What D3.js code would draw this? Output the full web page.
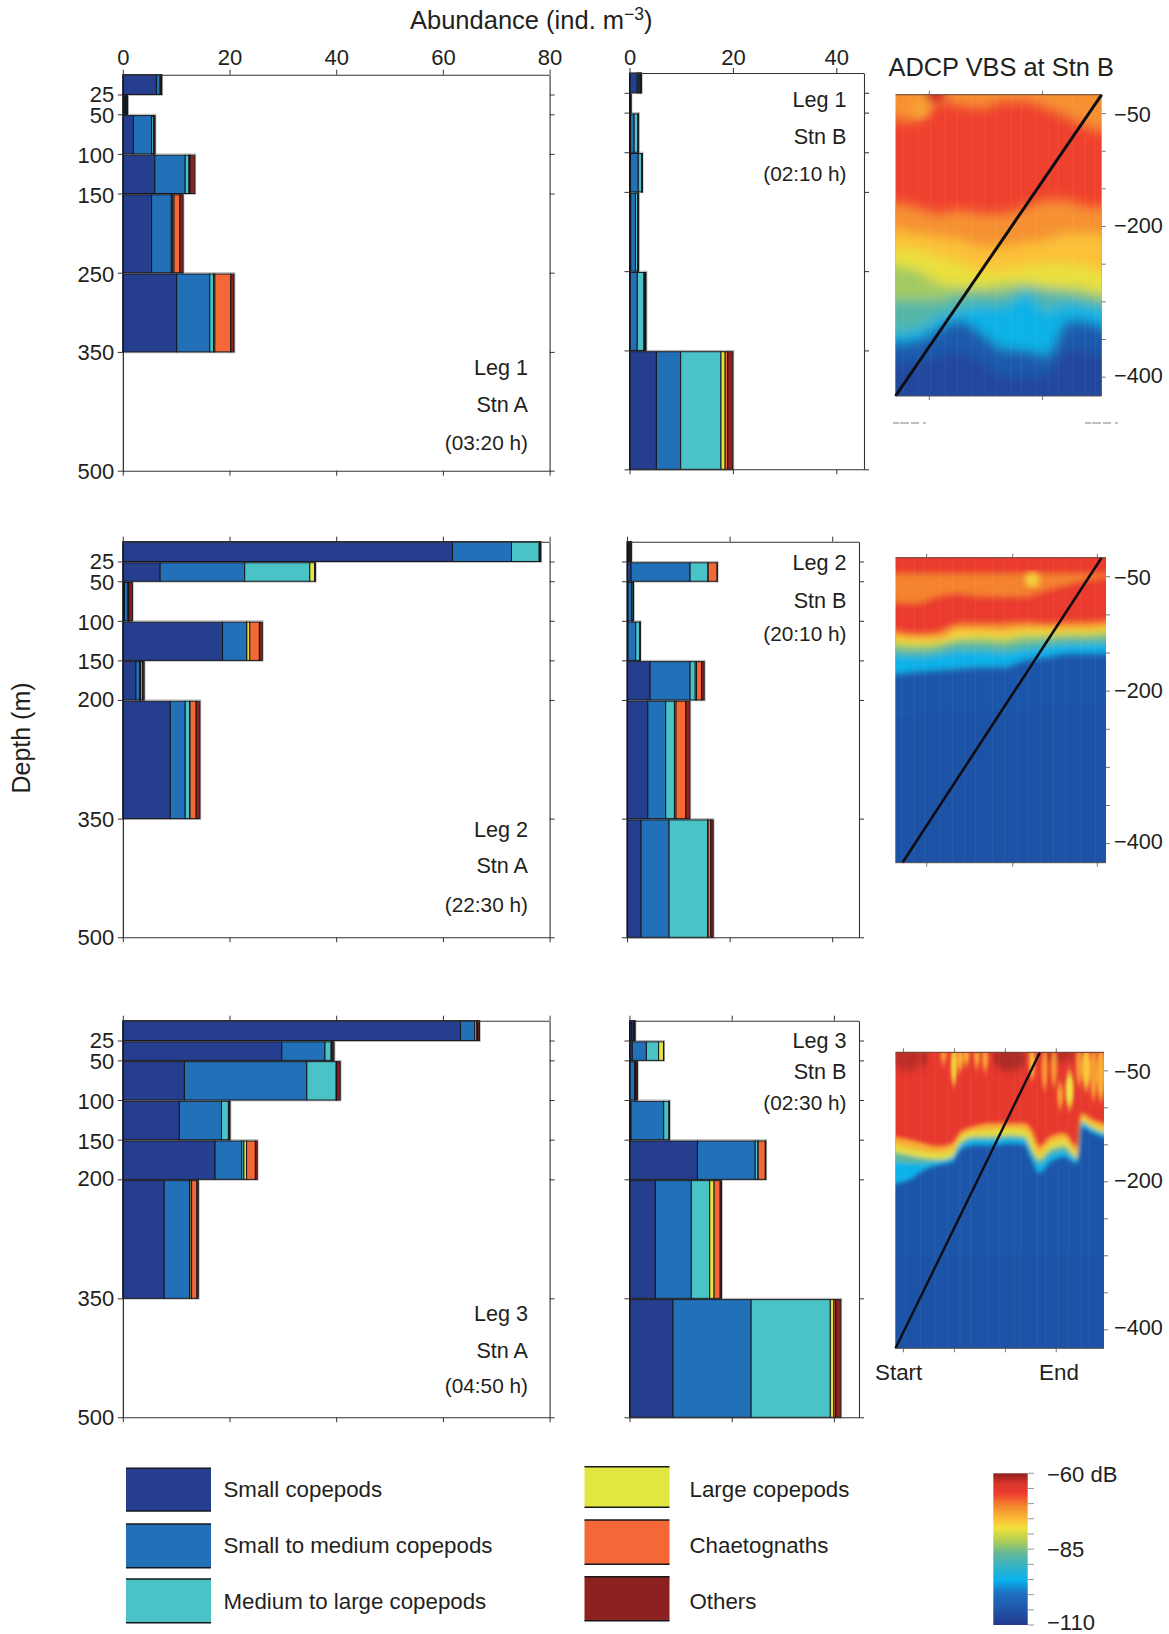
<!DOCTYPE html>
<html><head><meta charset="utf-8">
<style>
html,body{margin:0;padding:0;background:#fff}
svg{display:block}
text{font-family:"Liberation Sans",Arial,sans-serif;fill:#231f20}
</style>
<script src="https://cdnjs.cloudflare.com/ajax/libs/d3/7.9.0/d3.min.js"></script>
</head><body><svg id="c" width="1169" height="1634"></svg>
<script>
// ---------- categories ----------
const categories = ["Small copepods","Small to medium copepods","Medium to large copepods","Large copepods","Chaetognaths","Others"];
const catColors = ["#263e8e","#2170b8","#4ac3c6","#e2e641","#f46737","#8d211f"];
// depth strata (m)
const strataLeg1 = [0,25,50,100,150,250,350,500];
const strataOther = [0,25,50,100,150,200,350,500];
const ticksLeg1 = [25,50,100,150,250,350,500];
const ticksOther = [25,50,100,150,200,350,500];
const xTicksA = [0,20,40,60,80];
const xTicksB = [0,20,40];
// abundance per stratum: small, small-med, med-large, large, chaetognaths, others
const leg1A = [[6.3,.7,.1,.05,.05,.1],[.3,.2,.1,.1,.1,.1],[2,3.4,.35,.05,.05,.2],[6,5.7,.7,.1,.1,.9],[5.4,3.7,.25,.25,1.1,.6],[10.1,6.2,.7,.25,3,.6]];
const leg1B = [[1.5,.3,.2,.1,.1,.1],[.1,.05,.05,.03,.03,.03],[.2,.7,.75,.03,.03,.04],[.2,1.5,.7,.02,.02,.02],[.25,.9,.4,.05,.05,.1],[.1,1.4,1.3,.1,.15,.15],[5.2,4.7,7.8,.8,.5,1]];
const leg2A = [[61.8,11.05,5.2,.1,.1,.1],[7,15.85,12.2,.9,.05,.1],[.3,.65,.1,.05,.05,.65],[18.7,4.5,.05,.55,1.8,.55],[2.45,.7,.1,.05,.4,.3],[8.9,2.8,.85,.05,1.15,.7]];
const leg2B = [[.3,.15,.1,.1,.1,.1],[.8,11.5,3.5,.02,1.75,.03],[.2,.7,.3,.02,.02,.02],[.2,1.5,.8,.02,.02,.02],[4.5,7.8,1,.25,1,.5],[4.05,3.5,1.7,.3,1.9,.8],[2.75,5.45,7.5,.1,.55,.45]];
const leg3A = [[63.3,2.65,.4,.1,.1,.3],[29.8,8.1,1.15,.1,.1,.35],[11.55,22.95,5.5,.05,.05,.65],[10.6,7.9,1.3,.1,.1,.1],[17.3,5,.4,.5,1.65,.35],[7.75,4.75,.1,.3,1,.25]];
const leg3B = [[.4,.3,.1,.1,.1,.1],[.55,2.75,2.4,.95,.02,.02],[.05,.95,.1,.1,.1,.25],[.3,6.4,1.05,.02,.02,.02],[13.3,11.3,.55,.03,1.4,.1],[5.05,7.05,3.6,.85,1.2,.25],[8.5,15.3,15.5,.7,.35,1]];

// ---------- ADCP: depth (m) of each backscatter level along the tow period ----------
const adcpTicks = [50,100,150,200,250,300,350,400];
const adcpLabels = [50,200,400];
const adcp1Time = [0,.1,.21,.31,.42,.52,.63,.73,.84,.93,1];
const adcp1Surface = [50,59,32,37,41,32,32,41,54,67,76];
const adcp1A = [165,174,183,178,183,183,174,165,165,174,174];
const adcp1B = [200,209,214,218,227,227,222,218,209,209,218];
const adcp1C = [227,231,240,249,258,258,253,249,249,253,267];
const adcp1D = [249,258,275,280,280,275,275,280,280,284,298];
const adcp1E = [298,298,298,289,289,289,280,284,289,293,306];
const adcp1F = [342,337,320,311,306,306,289,311,302,306,320];
const adcp1G = [355,351,335,324,342,362,364,371,324,326,348];
const adcp1H = [386,382,373,368,382,399,399,399,364,368,382];
// patches: time start, time end, depth top, depth bottom, dB
const adcp1Patches = [[.15,.24,25,36,-63],[.08,.16,38,56,-73]];
const adcp1Streaks = [.04,.11,.17,.24,.3,.37,.43,.49,.56,.61,.68,.74,.79,.86,.92,.97];

const adcp2Time = [0,.1,.2,.3,.41,.51,.61,.72,.82,.91,1];
const adcp2OrangeTop = [46,46,46,46,46,46,46,46,46,46,46];
const adcp2OrangeBottom = [80,85,76,72,76,76,76,67,60,54,50];
const adcp2A = [113,124,122,111,111,111,109,111,109,109,102];
const adcp2B = [122,131,131,120,120,122,118,118,118,118,109];
const adcp2D = [131,139,137,131,129,131,126,126,124,124,118];
const adcp2E = [142,146,144,137,137,139,135,133,131,131,126];
const adcp2F = [150,155,153,148,148,150,146,142,139,139,137];
const adcp2G = [181,174,172,170,168,168,159,155,150,150,150];
const adcp2H = [233,233,225,225,225,225,225,216,216,216,216];
const adcp2Patches = [[.62,.68,52,64,-77]];
const adcp2Streaks = [.03,.09,.14,.21,.27,.33,.38,.46,.52,.58,.63,.69,.75,.81,.88,.95];

const adcp3Time = [0,.064,.133,.203,.272,.307,.376,.463,.55,.62,.655,.69,.74,.81,.87,.89,.95,1];
const adcp3A = [134,143,148,152,148,134,125,121,121,121,130,152,139,134,152,107,116,125];
const adcp3C = [143,155,159,161,157,141,132,130,128,130,141,164,148,143,161,114,123,134];
const adcp3E = [155,164,168,170,166,148,139,139,137,139,157,170,157,152,168,119,128,139];
const adcp3F = [170,175,175,173,168,152,143,143,141,143,164,177,164,159,170,121,130,141];
const adcp3G = [206,197,184,177,173,157,150,150,148,150,170,188,173,166,175,126,134,148];
const adcp3H = [300,300,300,300,300,300,300,300,300,300,300,300,300,300,300,300,300,300];
const adcp3Patches = [[0,.11,25,50,-62],[.47,.62,25,50,-61.5],[.7,.86,25,38,-62],[.12,.15,25,46,-62],
 [.27,.29,25,69,-77],[.3,.32,25,50,-74],[.22,.24,25,40,-73],[.33,.35,25,42,-74],[.38,.4,25,46,-73],[.42,.44,25,50,-73],
 [.645,.665,25,60,-75],[.705,.725,30,75,-72],[.75,.77,30,70,-72],[.82,.85,60,100,-78],[.78,.8,75,100,-73],
 [.87,.89,25,70,-72],[.9,.93,25,75,-76],[.94,.96,25,90,-73],[.97,1,25,90,-74]];
const adcp3Streaks = [.05,.12,.19,.25,.31,.36,.44,.5,.57,.6,.68,.72,.78,.83,.89,.93];

const towTrack1 = [[0,425],[1,25]];
const towTrack2 = [[.033,425],[.979,25]];
const towTrack3 = [[0,425],[.693,25]];
const adcpEdge1 = [.164,.713];
const adcpEdge2 = [.148,.557,.959];
const adcpEdge3 = [.038,.283,.527,.771];

// colour bar stops
const cbDb = [-60,-63.3,-66.6,-71,-75.4,-78.1,-82,-86.4,-90.8,-95.2,-99.6,-105,-110];
const cbCol = ["#8b2020","#d8352a","#ee3b2e","#f58b2f","#fbc037","#f0e23c","#b5cf52","#63b898","#33b3c8","#08b2ec","#1f6fbf","#1f55a8","#22398f"];
const cbTicks = [-60,-65,-70,-75,-80,-85,-90,-95,-100,-105,-110];
const cbLabels = [[-60,"\u221260 dB"],[-85,"\u221285"],[-110,"\u2212110"]];
const dbColor = d3.scaleLinear().domain(cbDb).range(cbCol);

// ---------- drawing ----------
const svg = d3.select("#c");
const defs = svg.append("defs");
const AXC = "#333";
const FS = 22;

function barPanel(o){
  const x = d3.scaleLinear().domain([0,o.xUnit]).range([o.x0,o.x0+o.scale*o.xUnit]);
  const y = d3.scaleLinear().domain([0,500]).range([o.top,o.bottom]);
  const g = svg.append("g");
  const keys = d3.range(6);
  const rows = o.data.map((r,i)=>Object.assign({top:o.strata[i],bot:o.strata[i+1]},r));
  const stack = d3.stack().keys(keys)(rows);
  g.selectAll("rect.h").data(rows).join("rect").attr("class","h")
    .attr("x",x(0)).attr("y",d=>y(d.top)).attr("height",d=>y(d.bot)-y(d.top)+.8)
    .attr("width",d=>x(d3.sum(keys,k=>d[k]))-x(0)+.8).attr("fill","none").attr("stroke","#b5b5b5").attr("stroke-width",1);
  stack.forEach((s,k)=>{
    g.append("g").selectAll("rect").data(s).join("rect")
     .attr("x",d=>x(d[0])).attr("width",d=>Math.max(0,x(d[1])-x(d[0])))
     .attr("y",d=>y(d.data.top)+(d.data.top===0?0:1.3))
     .attr("height",d=>y(d.data.bot)-y(d.data.top)-(d.data.top===0?0:1.3))
     .attr("fill",catColors[k]).attr("stroke","#15171c").attr("stroke-width",1);
  });
  const ax = g.append("g");
  const style = s=>{s.selectAll("path.domain").attr("stroke",AXC).attr("stroke-width",1.1);
    s.selectAll(".tick line").attr("stroke",AXC).attr("stroke-width",1);
    s.selectAll("text").attr("font-family","Liberation Sans").attr("font-size",FS).attr("fill","#2b2b2b");};
  const left = d3.axisLeft(y).tickValues(o.ticks).tickSize(5).tickSizeOuter(0).tickPadding(3.5);
  if(!o.yLabels) left.tickFormat("");
  const lg = ax.append("g").attr("transform",`translate(${o.x0},0)`).call(left).call(style);
  lg.selectAll("path.domain").attr("stroke","#111");
  const shift = {25:0,50:2,100:2,150:2,200:0,250:2,350:1,500:1};
  lg.selectAll(".tick text").attr("dy",d=>(6.6+shift[d])+"px");
  ax.append("g").attr("transform",`translate(${o.right},0)`).call(d3.axisRight(y).tickValues(o.ticks).tickSize(5).tickSizeOuter(0).tickFormat("")).call(style);
  const top = d3.axisTop(x).tickValues(o.xTicks).tickSize(5).tickSizeOuter(0).tickPadding(o.topPad||4.7);
  if(!o.xLabels) top.tickFormat("");
  const tg = ax.append("g").attr("transform",`translate(0,${o.top})`).call(top).call(style);
  tg.select("path.domain").attr("d",`M${o.x0},0.5H${o.right}`);
  const bg = ax.append("g").attr("transform",`translate(0,${o.bottom})`).call(d3.axisBottom(x).tickValues(o.xTicks).tickSize(5).tickSizeOuter(0).tickFormat("")).call(style);
  bg.select("path.domain").attr("d",`M${o.x0},0.5H${o.right}`);
  const sizes=[21.6,21.6,20.8];
  o.labels.forEach((t,i)=>svg.append("text").attr("x",o.labelX).attr("y",o.labelY[i]).attr("text-anchor","end").attr("font-size",sizes[i]).text(t));
}

const rowsY = [[74.7,470.7],[541.7,937.3],[1020.7,1417.3]];
const rowsYB = [[73,469.3],[541.7,937.3],[1020.7,1417.3]];
const A = {x0:122.8,scale:5.335,xUnit:80,right:549.6,xTicks:xTicksA,yLabels:true,labelX:528};
barPanel({...A,top:rowsY[0][0],bottom:rowsY[0][1],data:leg1A,strata:strataLeg1,ticks:ticksLeg1,xLabels:true,labels:["Leg 1","Stn A","(03:20 h)"],labelY:[375,411.7,450]});
barPanel({...A,top:rowsY[1][0],bottom:rowsY[1][1],data:leg2A,strata:strataOther,ticks:ticksOther,labels:["Leg 2","Stn A","(22:30 h)"],labelY:[836.7,873.3,911.7]});
barPanel({...A,top:rowsY[2][0],bottom:rowsY[2][1],data:leg3A,strata:strataOther,ticks:ticksOther,labels:["Leg 3","Stn A","(04:50 h)"],labelY:[1320.7,1357.7,1392.7]});
const B = {xUnit:40,xTicks:xTicksB,labelX:846.5};
barPanel({...B,x0:629.5,scale:5.17,right:864,top:rowsYB[0][0],bottom:rowsYB[0][1],data:leg1B,strata:strataLeg1,ticks:ticksLeg1,xLabels:true,topPad:3,labels:["Leg 1","Stn B","(02:10 h)"],labelY:[107.3,144,181]});
barPanel({...B,x0:627,scale:5.13,right:859,top:rowsYB[1][0],bottom:rowsYB[1][1],data:leg2B,strata:strataOther,ticks:ticksOther,labels:["Leg 2","Stn B","(20:10 h)"],labelY:[570,607.7,641]});
barPanel({...B,x0:629.5,scale:5.11,right:859,top:rowsYB[2][0],bottom:rowsYB[2][1],data:leg3B,strata:strataOther,ticks:ticksOther,labels:["Leg 3","Stn B","(02:30 h)"],labelY:[1048.3,1079,1110]});

// titles
const tt = svg.append("text").attr("x",410).attr("y",29).attr("font-size",25.5).text("Abundance (ind. m");
tt.append("tspan").attr("dy",-9).attr("font-size",17.5).text("\u22123");
tt.append("tspan").attr("dy",9).text(")");
svg.append("text").attr("transform","translate(30,738) rotate(-90)").attr("text-anchor","middle").attr("font-size",25).text("Depth (m)");
svg.append("text").attr("x",888.5).attr("y",76).attr("font-size",25.4).text("ADCP VBS at Stn B");

function adcpPanel(o){
  const x = d3.scaleLinear().domain([0,1]).range([o.x0,o.x1]);
  const y = d3.scaleLinear().domain([25,425]).range([o.top,o.bottom]);
  const id = "clip"+o.id;
  defs.append("clipPath").attr("id",id).append("rect").attr("x",o.x0).attr("y",o.top).attr("width",o.x1-o.x0).attr("height",o.bottom-o.top);
  const f = defs.append("filter").attr("id","soft"+o.id).attr("x","-10%").attr("y","-10%").attr("width","120%").attr("height","120%");
  f.append("feGaussianBlur").attr("stdDeviation",o.blur);
  const f2 = defs.append("filter").attr("id","fine"+o.id).attr("x","-30%").attr("y","-10%").attr("width","160%").attr("height","120%");
  f2.append("feGaussianBlur").attr("stdDeviation",o.patchBlur);
  const outer = svg.append("g").attr("clip-path",`url(#${id})`);
  const g = outer.append("g").attr("filter",`url(#soft${o.id})`);
  g.append("rect").attr("x",x(-.1)).attr("y",y(0)).attr("width",x(1.1)-x(-.1)).attr("height",y(470)-y(0)).attr("fill",dbColor(o.base));
  const wide = t=>{const r=t.slice(); r[0]=-.1; r[r.length-1]=1.1; return r;};
  const time = wide(o.time);
  const idx = d3.range(time.length);
  o.under.forEach(u=>{
    g.append("path").attr("fill",dbColor(u.db)).attr("d",d3.area().x(i=>x(time[i])).y0(i=>y(u.a[i])).y1(i=>y(u.b[i])).curve(d3.curveMonotoneX)(idx));
  });
  const pg = outer.append("g").attr("filter",`url(#fine${o.id})`);
  o.patches.forEach(p=>{
    pg.append("ellipse").attr("cx",x((p[0]+p[1])/2)).attr("rx",(x(p[1])-x(p[0]))/2+1).attr("cy",y((p[2]-8+p[3])/2)).attr("ry",(y(p[3])-y(p[2]-8))/2).attr("fill",dbColor(p[4]));
  });
  const g2 = outer.append("g").attr("filter",`url(#soft${o.id})`);
  o.bands.forEach(b=>{
    g2.append("path").attr("fill",dbColor(b[0])).attr("d",d3.area().x(i=>x(time[i])).y0(i=>y(b[1][i])).y1(y(470)).curve(d3.curveMonotoneX)(idx));
  });
  outer.append("g").selectAll("line").data(o.streaks).join("line")
    .attr("x1",d=>x(d)).attr("x2",d=>x(d)).attr("y1",o.top).attr("y2",o.bottom).attr("stroke","#fff").attr("stroke-opacity",.05).attr("stroke-width",1.2);
  svg.append("path").attr("d",d3.line().x(d=>x(d[0])).y(d=>y(d[1]))(o.track)).attr("stroke","#0d0d12").attr("stroke-width",o.trackW).attr("fill","none");
  const col="#777";
  svg.append("g").selectAll("line").data(adcpTicks).join("line").attr("x1",o.x1).attr("x2",o.x1+4).attr("y1",d=>y(d)).attr("y2",d=>y(d)).attr("stroke",col);
  const labelShift = {50:8,200:6.5,400:5.5};
  svg.append("g").selectAll("text").data(adcpLabels).join("text").attr("x",1114).attr("y",d=>y(d)).attr("dy",d=>labelShift[d]+"px").attr("font-size",FS-.3).text(d=>"\u2212"+d);
  o.edge.forEach(e=>{
    svg.append("line").attr("x1",x(e)).attr("x2",x(e)).attr("y1",o.top-4).attr("y2",o.top).attr("stroke",col);
    svg.append("line").attr("x1",x(e)).attr("x2",x(e)).attr("y1",o.bottom).attr("y2",o.bottom+4).attr("stroke",col);
  });
  svg.append("line").attr("x1",o.x0).attr("x2",o.x1).attr("y1",o.top).attr("y2",o.top).attr("stroke","#6b3a30").attr("stroke-width",1);
  svg.append("line").attr("x1",o.x0).attr("x2",o.x1).attr("y1",o.bottom).attr("y2",o.bottom).attr("stroke","#555").attr("stroke-width",1);
}
adcpPanel({id:1,x0:895.5,x1:1101.7,top:94.7,bottom:396,time:adcp1Time,base:-67,blur:6,patchBlur:"4 4",track:towTrack1,trackW:3,edge:adcpEdge1,streaks:adcp1Streaks,
  under:[{db:-71.5,a:adcp1Surface.map(()=>0),b:adcp1Surface}],patches:adcp1Patches,
  bands:[[-71.5,adcp1A],[-75.5,adcp1B],[-78.5,adcp1C],[-83,adcp1D],[-88,adcp1E],[-94.5,adcp1F],[-104,adcp1G],[-107.5,adcp1H]]});
adcpPanel({id:2,x0:895.5,x1:1106,top:557.7,bottom:862.7,time:adcp2Time,base:-66,blur:3.4,patchBlur:"3 3",track:towTrack2,trackW:2.6,edge:adcpEdge2,streaks:adcp2Streaks,
  under:[{db:-70.5,a:adcp2OrangeTop,b:adcp2OrangeBottom}],patches:adcp2Patches,
  bands:[[-72,adcp2A],[-77,adcp2B],[-83,adcp2D],[-88,adcp2E],[-95,adcp2F],[-104.5,adcp2G],[-105.5,adcp2H]]});
adcpPanel({id:3,x0:895.5,x1:1104,top:1052.3,bottom:1348.3,time:adcp3Time,base:-65.5,blur:2,patchBlur:"1.5 4",track:towTrack3,trackW:2.4,edge:adcpEdge3,streaks:adcp3Streaks,
  under:[],patches:adcp3Patches,
  bands:[[-74,adcp3A],[-79,adcp3C],[-87,adcp3E],[-95,adcp3F],[-104.5,adcp3G],[-105.5,adcp3H]]});
svg.append("text").attr("x",875).attr("y",1380).attr("font-size",22.4).text("Start");
svg.append("text").attr("x",1039).attr("y",1380).attr("font-size",22.4).text("End");
[[893,931],[1085,1118]].forEach(r=>svg.append("line").attr("x1",r[0]).attr("x2",r[1]).attr("y1",423).attr("y2",423).attr("stroke","#aaa").attr("stroke-width",1.5).attr("stroke-dasharray","6 1 9 2 8 4 3"));

// legend
const legendCols = [[0,1,2],[3,4,5]];
const swX = [126,584.5], swW=85, txtX=[223.5,689.5];
const swY = [[1468.3,1524,1579],[1466.7,1520,1576.7]], swH=[[42.7,43.7,43.7],[40.6,44.3,44]];
const txtY = [1497,1552.7,1608.7];
legendCols.forEach((c,ci)=>c.forEach((k,ri)=>{
  const yy=swY[ci][ri], h=swH[ci][ri];
  svg.append("rect").attr("x",swX[ci]).attr("y",yy).attr("width",swW).attr("height",h).attr("fill",catColors[k]);
  [yy,yy+h].forEach(v=>svg.append("line").attr("x1",swX[ci]).attr("x2",swX[ci]+swW).attr("y1",v).attr("y2",v).attr("stroke","#15171c").attr("stroke-width",1.6));
  svg.append("text").attr("x",txtX[ci]).attr("y",txtY[ri]).attr("font-size",22.3).text(categories[k]);
}));

// colour bar
const cb = d3.scaleLinear().domain([-60,-110]).range([1473.3,1625]);
const grad = defs.append("linearGradient").attr("id","cbg").attr("x1",0).attr("x2",0).attr("y1",0).attr("y2",1);
cbDb.forEach((d,i)=>grad.append("stop").attr("offset",(d+60)/-50).attr("stop-color",cbCol[i]));
svg.append("rect").attr("x",993.3).attr("y",cb(-60)).attr("width",34.4).attr("height",cb(-110)-cb(-60)).attr("fill","url(#cbg)");
svg.append("g").selectAll("line").data(cbTicks).join("line").attr("x1",1028).attr("x2",1034).attr("y1",d=>cb(d)).attr("y2",d=>cb(d)).attr("stroke","#999");
svg.append("g").selectAll("text").data(cbLabels).join("text").attr("x",1047).attr("y",d=>cb(d[0])).attr("dy",d=>d[0]===-60?"9px":d[0]===-85?"7.5px":"5px").attr("font-size",FS).text(d=>d[1]);
</script></body></html>
